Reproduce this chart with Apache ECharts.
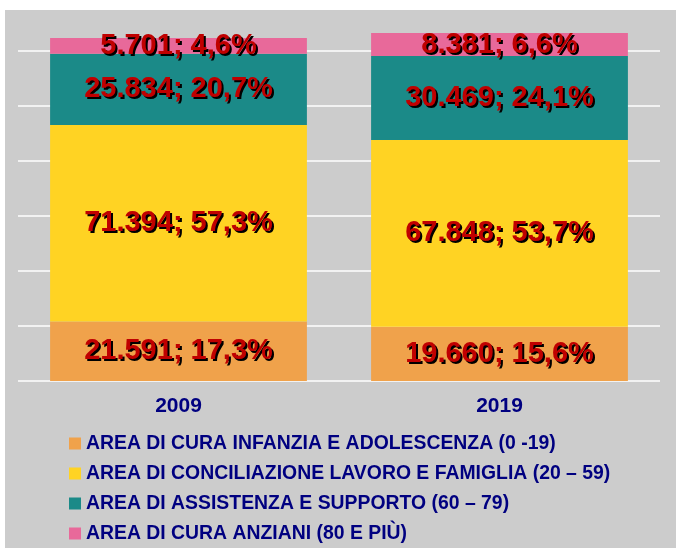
<!DOCTYPE html>
<html>
<head>
<meta charset="utf-8">
<script src="https://cdn.jsdelivr.net/npm/echarts@6/dist/echarts.min.js"></script>
<style>
  html, body { margin: 0; padding: 0; background: #fff; }
  #chart { width: 676px; height: 548px; }
</style>
</head>
<body>
<div id="chart"></div>
<script>
// dati
const years = ['2009', '2019']
const seriesNames = [
  'AREA DI CURA INFANZIA E ADOLESCENZA (0 -19)',
  'AREA DI CONCILIAZIONE LAVORO E FAMIGLIA (20 – 59)',
  'AREA DI ASSISTENZA E SUPPORTO (60 – 79)',
  'AREA DI CURA ANZIANI (80 E PIÙ)'
]
const infanzia = [21591, 19660]
const conciliazione = [71394, 67848]
const assistenza = [25834, 30469]
const anziani = [5701, 8381]
const infanziaPct = ['17,3%', '15,6%']
const conciliazionePct = ['57,3%', '53,7%']
const assistenzaPct = ['20,7%', '24,1%']
const anzianiPct = ['4,6%', '6,6%']
const colors = ['#f0a24b', '#ffd323', '#1b8a88', '#e8699a']

const fmt = v => String(v).replace(/\B(?=(\d{3})+(?!\d))/g, '.')

function makeSeries(name, values, pcts, color) {
  return {
    name: name,
    type: 'bar',
    stack: 'tot',
    barWidth: '80%',
    itemStyle: { color: color },
    label: {
      show: true,
      position: 'inside',
      formatter: p => fmt(values[p.dataIndex]) + '; ' + pcts[p.dataIndex],
      color: '#c00000',
      fontFamily: 'Liberation Sans, Arial, sans-serif',
      fontWeight: 'bold',
      fontSize: 29,
      textShadowColor: '#000',
      textShadowOffsetX: 2,
      textShadowOffsetY: 2,
      textShadowBlur: 0.5
    },
    data: values
  }
}

const chart = echarts.init(document.getElementById('chart'))
chart.setOption({
  backgroundColor: '#fff',
  animation: false,
  graphic: [{
    type: 'rect',
    left: 5, top: 10, z: -10, silent: true,
    shape: { width: 671, height: 538 },
    style: { fill: '#cccccc' }
  }],
  grid: { left: 18, right: 16, top: 23, bottom: 167 },
  legend: {
    orient: 'vertical',
    left: 69, top: 434,
    padding: 0,
    height: 114,
    itemWidth: 12, itemHeight: 12,
    itemGap: 11,
    icon: 'rect',
    data: seriesNames,
    textStyle: {
      color: '#000080',
      fontFamily: 'Liberation Sans, Arial, sans-serif',
      fontWeight: 'bold',
      fontSize: 19.4
    }
  },
  xAxis: {
    type: 'category',
    data: years,
    axisLine: { show: false },
    axisTick: { show: false },
    axisLabel: {
      color: '#000080',
      fontFamily: 'Liberation Sans, Arial, sans-serif',
      fontWeight: 'bold',
      fontSize: 21,
      margin: 15
    }
  },
  yAxis: {
    type: 'value',
    min: 0, max: 130000, interval: 20000,
    axisLabel: { show: false },
    axisLine: { show: false },
    axisTick: { show: false },
    splitLine: { show: true, showMaxLine: false, lineStyle: { color: '#ffffff', width: 1.5 } }
  },
  series: [
    makeSeries(seriesNames[0], infanzia, infanziaPct, colors[0]),
    makeSeries(seriesNames[1], conciliazione, conciliazionePct, colors[1]),
    makeSeries(seriesNames[2], assistenza, assistenzaPct, colors[2]),
    makeSeries(seriesNames[3], anziani, anzianiPct, colors[3])
  ]
})
</script>
</body>
</html>
